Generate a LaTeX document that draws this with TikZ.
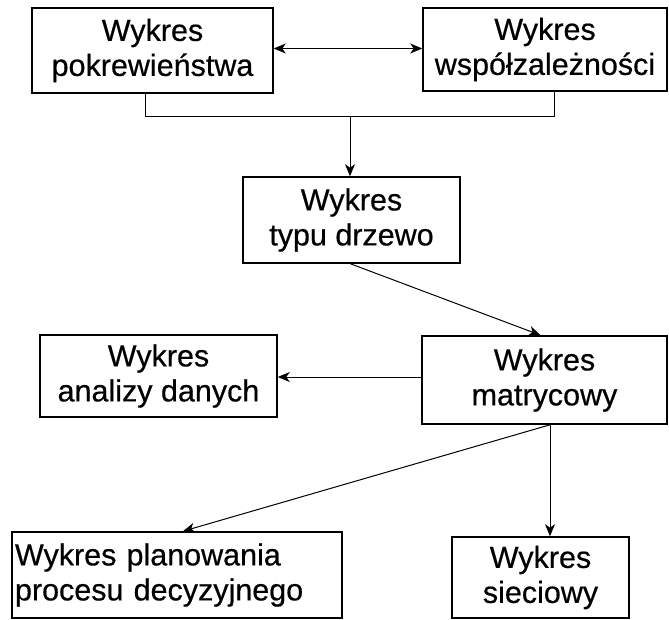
\documentclass[tikz,border=0pt]{standalone}
\usepackage{fontspec}
\setmainfont{Liberation Sans}[FakeBold=0.5]
\usetikzlibrary{arrows.meta,positioning,calc}

\tikzset{
  chart/.style={draw=black, line width=1.6pt, fill=white, align=center,
    font=\fontsize{30.5}{35}\selectfont, inner sep=2pt},
  tip/.tip={Stealth[length=12pt,width=10pt,inset=3.5pt]},
  link/.style={line width=1pt, -tip},
  plain/.style={line width=1pt}
}

\begin{document}
\begin{tikzpicture}[x=1pt,y=-1pt]
  \useasboundingbox (0,0) rectangle (669,620);

  % boxes
  \node[chart, minimum width=241pt, minimum height=85pt] (A) at (152.5,50.5)
    {Wykres\\pokrewieństwa};
  \node[chart, minimum width=244pt, minimum height=83pt] (B) at (545,49.5)
    {Wykres\\współzależności};
  \node[chart, minimum width=217pt, minimum height=86pt] (C) at (351.5,220)
    {Wykres\\typu drzewo};
  \node[chart, minimum width=237pt, minimum height=82pt] (D) at (158.5,376)
    {Wykres\\analizy danych};
  \node[chart, minimum width=245pt, minimum height=88pt] (E) at (544.5,380)
    {Wykres\\matrycowy};
  \node[chart, minimum width=330pt, minimum height=86pt, align=left,
        text width=324pt] (F) at (177,575)
    {Wykres planowania\\procesu decyzyjnego};
  \node[chart, minimum width=177pt, minimum height=81pt] (G) at (540.5,577.5)
    {Wykres\\sieciowy};

  % junction points of the bracket under the top row
  \coordinate (jl) at (145,117);
  \coordinate (jr) at (554,117);
  \coordinate (jm) at (350,117);

  % connectors
  \draw[plain, tip-tip]
    ([yshift=2pt]A.east) -- ([yshift=2pt]A.east -| B.west);
  \draw[plain] (A.south -| jl) -- (jl) -- (jr) -- (B.south -| jr);
  \draw[link] (jm) -- (jm |- C.north);
  \draw[link] ([xshift=-1pt]C.south) -- ([xshift=-4pt]E.north);
  \draw[link] ([yshift=3pt]E.west) -- ([yshift=3pt]E.west -| D.east);
  \draw[link] ([xshift=5.5pt]E.south) -- ([xshift=6pt]F.north);
  \draw[link] ([xshift=5.5pt]E.south) -- ([xshift=5.5pt]E.south |- G.north);
\end{tikzpicture}
\end{document}
